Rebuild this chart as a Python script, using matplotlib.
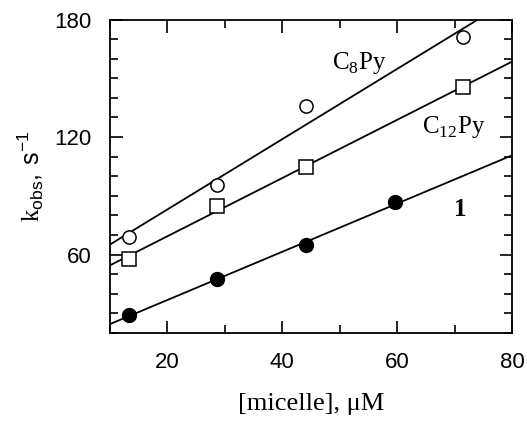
import numpy as np
import matplotlib
matplotlib.use("Agg")
import matplotlib.pyplot as plt
from matplotlib.ticker import MultipleLocator

plt.rcParams['mathtext.fontset'] = 'custom'
plt.rcParams['mathtext.rm'] = 'Liberation Serif'
plt.rcParams['mathtext.sf'] = 'Liberation Sans'

# data
x_c8 = [13.3, 28.7, 44.2, 71.4]
k_c8 = [69.0, 95.4, 136.0, 171.0]
x_c12 = [13.3, 28.7, 44.2, 71.4]
k_c12 = [58.0, 84.8, 104.5, 145.5]
x_1 = [13.3, 28.7, 44.2, 59.7]
k_1 = [29.2, 47.6, 64.8, 86.9]

fig = plt.figure(figsize=(5.27, 4.24), dpi=100)
ax = fig.add_axes([0.2087, 0.2146, 0.7628, 0.7394])

xx = np.array([10, 80])
for xs, ks in [(x_c8, k_c8), (x_c12, k_c12), (x_1, k_1)]:
    p = np.polyfit(xs, ks, 1)
    ax.plot(xx, np.polyval(p, xx), color='black', lw=1.3, zorder=2)

ax.plot(x_c8, k_c8, 'o', ms=9.5, mfc='white', mec='black', mew=1.1, ls='none', zorder=3)
ax.plot(x_c12, k_c12, 's', ms=10, mfc='white', mec='black', mew=1.1, ls='none', zorder=3)
ax.plot(x_1, k_1, 'o', ms=10, mfc='black', mec='black', ls='none', zorder=3)

ax.text(53.5, 158, r'C$_8$Py', family='Liberation Serif', fontsize=18,
        ha='center', va='center')
ax.text(69.8, 125, r'C$_{12}$Py', family='Liberation Serif', fontsize=18,
        ha='center', va='center')
ax.text(71, 83, '1', family='Liberation Serif', fontweight='bold', fontsize=18,
        ha='center', va='center')

ax.set_xlim(10, 80)
ax.set_ylim(20, 180)
ax.xaxis.set_major_locator(MultipleLocator(20))
ax.xaxis.set_minor_locator(MultipleLocator(10))
ax.yaxis.set_major_locator(MultipleLocator(60))
ax.yaxis.set_minor_locator(MultipleLocator(10))
ax.tick_params(which='both', direction='in', top=True, right=True, width=1.2)
ax.tick_params(which='major', length=9, labelsize=16)
ax.tick_params(which='minor', length=6)
ax.tick_params(axis='x', which='major', pad=14)
ax.tick_params(axis='y', which='major', pad=13)
for lab in ax.get_xticklabels() + ax.get_yticklabels():
    lab.set_family('Liberation Sans')
for s in ax.spines.values():
    s.set_linewidth(1.3)

ax.set_xlabel('[micelle], \u03bcM', family='Liberation Serif', fontsize=19, labelpad=14)
ax.set_ylabel(r'$\mathrm{k}_{\mathsf{obs}}\mathsf{,\,s^{-1}}$', fontsize=18, labelpad=6)

fig.savefig('out.png', dpi=100)
